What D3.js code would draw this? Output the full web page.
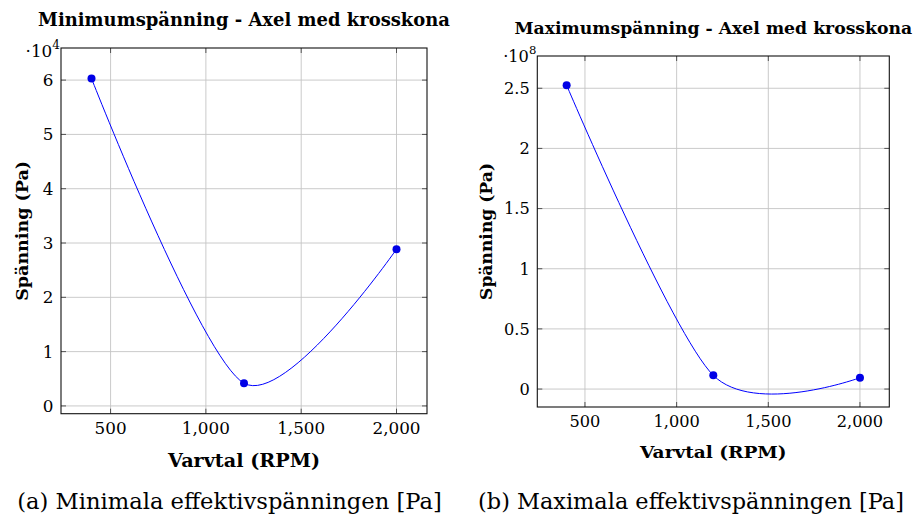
<!DOCTYPE html>
<html>
<head>
<meta charset="utf-8">
<script src="https://cdn.jsdelivr.net/npm/d3@7"></script>
<style>
  html, body { margin: 0; padding: 0; background: #fff; }
  svg { display: block; }
  text { fill: #000; font-family: "DejaVu Serif", serif; }
  .bf { font-weight: bold; }
</style>
</head>
<body>
<svg id="fig" width="916" height="523"></svg>
<script>
// Effective stress against shaft speed, shaft with cross cone
const rpm = [400, 1200, 2000];
const minStress = [6.03e4, 0.418e4, 2.886e4];   // Pa
const maxStress = [2.525e8, 0.114e8, 0.094e8];  // Pa

const xTickValues = [500, 1000, 1500, 2000];
const minYTicks = [0, 1, 2, 3, 4, 5, 6];
const maxYTicks = [0, 0.5, 1, 1.5, 2, 2.5];

const titles = ["Minimumspänning - Axel med krosskona", "Maximumspänning - Axel med krosskona"];
const captions = ["(a) Minimala effektivspänningen [Pa]", "(b) Maximala effektivspänningen [Pa]"];
const xLabel = "Varvtal (RPM)";
const yLabel = "Spänning (Pa)";

// Panel geometry
const panels = [
  {
    values: minStress, exp: 4, yTicks: minYTicks, title: titles[0], caption: captions[0],
    left: 61, right: 427, top: 48, bottom: 413.7, fs: 16.8, bfs: 18.2,
    titleY: 25.7, titleW: 412, xLabY: 466.5, xLabW: 152, yLabX: 28, yLabW: 140,
    xTickY: 434.2, scaleY: 56.6, capX: 229.5, capY: 508.6, capW: 425
  },
  {
    values: maxStress, exp: 8, yTicks: maxYTicks, title: titles[1], caption: captions[1],
    left: 537.3, right: 889.3, top: 56, bottom: 407, fs: 16.2, bfs: 17.5,
    titleY: 33.6, titleW: 398, xLabY: 458.4, xLabW: 146.7, yLabX: 491.5, yLabW: 137,
    xTickY: 427.2, scaleY: 61.5, capX: 691, capY: 508.6, capW: 426
  }
];

const svg = d3.select("#fig");
const fmtX = d3.format(",");

// pgfplots-style "enlarge limits": 10% of the data range on each side
function enlarged(arr) {
  const [a, b] = d3.extent(arr);
  const pad = 0.1 * (b - a);
  return [a - pad, b + pad];
}

// Bring a text to a given width: shrink the font if it is too wide, stretch it otherwise
function fitWidth(sel, target) {
  const natural = sel.node().getComputedTextLength();
  if (natural > target) {
    sel.attr("font-size", +sel.attr("font-size") * target / natural);
  } else {
    sel.attr("textLength", target).attr("lengthAdjust", "spacingAndGlyphs");
  }
  return sel;
}

panels.forEach(p => {
  const g = svg.append("g");
  const scale = Math.pow(10, p.exp);
  const yVals = p.values.map(v => v / scale);

  const x = d3.scaleLinear().domain(enlarged(rpm)).range([p.left, p.right]);
  const y = d3.scaleLinear().domain(enlarged(yVals)).range([p.bottom, p.top]);

  // grid
  const grid = g.append("g").attr("stroke", "#c4c4c4").attr("stroke-width", 0.9);
  grid.selectAll("line.gx").data(xTickValues).join("line")
    .attr("x1", d => x(d)).attr("x2", d => x(d))
    .attr("y1", p.top).attr("y2", p.bottom);
  grid.selectAll("line.gy").data(p.yTicks).join("line")
    .attr("y1", d => y(d)).attr("y2", d => y(d))
    .attr("x1", p.left).attr("x2", p.right);

  // tick marks on all four sides
  const tl = 5;
  const ticks = g.append("g").attr("stroke", "#444").attr("stroke-width", 0.9);
  xTickValues.forEach(d => {
    ticks.append("line").attr("x1", x(d)).attr("x2", x(d)).attr("y1", p.bottom).attr("y2", p.bottom - tl);
    ticks.append("line").attr("x1", x(d)).attr("x2", x(d)).attr("y1", p.top).attr("y2", p.top + tl);
  });
  p.yTicks.forEach(d => {
    ticks.append("line").attr("y1", y(d)).attr("y2", y(d)).attr("x1", p.left).attr("x2", p.left + tl);
    ticks.append("line").attr("y1", y(d)).attr("y2", y(d)).attr("x1", p.right).attr("x2", p.right - tl);
  });

  // frame
  g.append("rect")
    .attr("x", p.left).attr("y", p.top)
    .attr("width", p.right - p.left).attr("height", p.bottom - p.top)
    .attr("fill", "none").attr("stroke", "#111").attr("stroke-width", 1.1);

  // tick labels
  g.append("g").selectAll("text").data(xTickValues).join("text")
    .attr("x", d => x(d)).attr("y", p.xTickY)
    .attr("text-anchor", "middle").attr("font-size", p.fs)
    .text(d => fmtX(d));
  g.append("g").selectAll("text").data(p.yTicks).join("text")
    .attr("x", p.left - 7.5).attr("y", d => y(d)).attr("dy", "0.36em")
    .attr("text-anchor", "end").attr("font-size", p.fs)
    .text(d => d);

  // scale label ·10^n
  const sl = g.append("text")
    .attr("x", p.left - 1).attr("y", p.scaleY)
    .attr("text-anchor", "end").attr("font-size", p.fs);
  sl.append("tspan").text("·10");
  sl.append("tspan").attr("font-size", p.fs * 0.72).attr("dy", -8).text(p.exp);

  // series
  const pts = rpm.map((r, i) => [r, yVals[i]]);
  g.append("path")
    .datum(pts)
    .attr("fill", "none").attr("stroke", "#0000ff").attr("stroke-width", 1)
    .attr("d", d3.line().x(d => x(d[0])).y(d => y(d[1])).curve(d3.curveCardinal.tension(0.166)));
  g.append("g").selectAll("circle").data(pts).join("circle")
    .attr("cx", d => x(d[0])).attr("cy", d => y(d[1])).attr("r", 4)
    .attr("fill", "#0000e6");

  // title and axis labels
  const cx = (p.left + p.right) / 2;
  const cy = (p.top + p.bottom) / 2;
  fitWidth(g.append("text").attr("class", "bf").attr("x", cx).attr("y", p.titleY)
    .attr("text-anchor", "middle").attr("font-size", p.bfs)
    .text(p.title), p.titleW);
  fitWidth(g.append("text").attr("class", "bf").attr("x", cx).attr("y", p.xLabY)
    .attr("text-anchor", "middle").attr("font-size", p.bfs)
    .text(xLabel), p.xLabW);
  fitWidth(g.append("text").attr("class", "bf")
    .attr("transform", `translate(${p.yLabX},${cy}) rotate(-90)`)
    .attr("text-anchor", "middle").attr("font-size", p.bfs)
    .text(yLabel), p.yLabW);

  // sub-caption
  fitWidth(g.append("text").attr("x", p.capX).attr("y", p.capY)
    .attr("text-anchor", "middle").attr("font-size", 23.5)
    .text(p.caption), p.capW);
});
</script>
</body>
</html>
